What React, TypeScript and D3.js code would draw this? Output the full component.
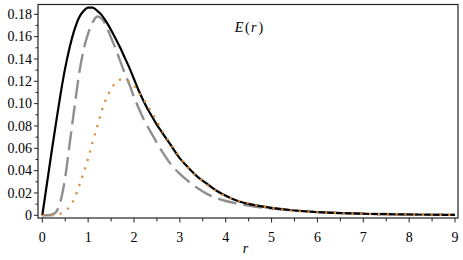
import * as d3 from "d3";
import { useEffect, useRef } from "react";

// values
const rSolid = [0, 0.1, 0.2, 0.3, 0.4, 0.5, 0.6, 0.7, 0.8, 0.9, 1.0, 1.1, 1.2, 1.3, 1.4, 1.5, 1.6, 1.7, 1.8, 1.9, 2.0, 2.1, 2.2, 2.3, 2.4, 2.5, 2.6, 2.8, 3.0, 3.2, 3.4, 3.6, 3.8, 4.0, 4.25, 4.5, 4.75, 5.0, 5.5, 6, 6.5, 7, 7.5, 8, 8.5, 9];
const eSolid = [0, 0.028, 0.056, 0.083, 0.109, 0.132, 0.151, 0.166, 0.177, 0.183, 0.186, 0.186, 0.183, 0.179, 0.173, 0.166, 0.158, 0.150, 0.141, 0.132, 0.122, 0.112, 0.103, 0.095, 0.088, 0.081, 0.075, 0.063, 0.051, 0.042, 0.034, 0.028, 0.022, 0.0175, 0.013, 0.0102, 0.0082, 0.0066, 0.0043, 0.0029, 0.002, 0.0014, 0.001, 0.0007, 0.0005, 0.0004];

const rDash = [0, 0.1, 0.2, 0.3, 0.4, 0.5, 0.6, 0.7, 0.8, 0.9, 1.0, 1.1, 1.2, 1.3, 1.4, 1.5, 1.6, 1.7, 1.8, 1.9, 2.0, 2.1, 2.2, 2.4, 2.6, 2.8, 3.0, 3.2, 3.4, 3.6, 3.8, 4.0, 4.25, 4.5, 4.75, 5.0, 5.5, 6, 6.5, 7, 7.5, 8, 8.5, 9];
const eDash = [0, 0, 0.0005, 0.003, 0.013, 0.034, 0.065, 0.096, 0.126, 0.148, 0.163, 0.173, 0.178, 0.176, 0.169, 0.159, 0.149, 0.138, 0.127, 0.117, 0.106, 0.096, 0.087, 0.072, 0.058, 0.046, 0.037, 0.030, 0.024, 0.019, 0.0155, 0.0128, 0.0105, 0.0087, 0.0072, 0.006, 0.0042, 0.003, 0.0021, 0.0015, 0.0011, 0.0008, 0.0006, 0.0004];

const rDot = [0, 0.2, 0.4, 0.5, 0.6, 0.7, 0.8, 0.9, 1.0, 1.1, 1.2, 1.3, 1.4, 1.5, 1.6, 1.7, 1.8, 1.9, 2.0, 2.1, 2.2, 2.3, 2.4, 2.5, 2.6, 2.7, 2.8, 2.9, 3.0, 3.2, 3.4, 3.6, 3.8, 4.0, 4.2, 4.4, 4.6, 4.8, 5.0, 5.2, 5.4, 5.7, 6, 6.5, 7, 7.5, 8, 8.5, 9];
const eDot = [0, 0, 0.0015, 0.004, 0.008, 0.015, 0.026, 0.038, 0.051, 0.066, 0.080, 0.094, 0.105, 0.113, 0.119, 0.1215, 0.1215, 0.1195, 0.116, 0.110, 0.104, 0.098, 0.091, 0.084, 0.077, 0.070, 0.064, 0.058, 0.052, 0.042, 0.034, 0.027, 0.0215, 0.0173, 0.014, 0.0116, 0.0096, 0.008, 0.0066, 0.0054, 0.0044, 0.0034, 0.0027, 0.0019, 0.0013, 0.0009, 0.0007, 0.0005, 0.0004];

const xTicks = [0, 1, 2, 3, 4, 5, 6, 7, 8, 9];
const yTicks = [0, 0.02, 0.04, 0.06, 0.08, 0.1, 0.12, 0.14, 0.16, 0.18];
const yTickLabels = ["0", "0.02", "0.04", "0.06", "0.08", "0.10", "0.12", "0.14", "0.16", "0.18"];

const W = 463, H = 260;
const frame = { left: 38, right: 458, top: 4.5, bottom: 218 };
const font = "'Liberation Serif', 'DejaVu Serif', Tinos, 'Nimbus Roman', FreeSerif, 'Times New Roman', Times, serif";

export default function App() {
  const ref = useRef<SVGSVGElement>(null);

  useEffect(() => {
    const svg = d3.select(ref.current);
    svg.selectAll("*").remove();

    const x = d3.scaleLinear().domain([0, 9]).range([42.3, 455]);
    const y = d3.scaleLinear().domain([0, 0.18]).range([215.3, 14.3]);

    // frame
    svg.append("rect")
      .attr("x", frame.left).attr("y", frame.top)
      .attr("width", frame.right - frame.left).attr("height", frame.bottom - frame.top)
      .attr("fill", "none").attr("stroke", "#222").attr("stroke-width", 1.2);

    // y ticks, majors and minors
    const yMinor = d3.range(0.01, 0.19, 0.02);
    svg.append("g").selectAll("line").data(yTicks).join("line")
      .attr("x1", frame.left - 4).attr("x2", frame.left)
      .attr("y1", d => y(d)).attr("y2", d => y(d))
      .attr("stroke", "#222");
    svg.append("g").selectAll("line").data(yMinor).join("line")
      .attr("x1", frame.left - 2.5).attr("x2", frame.left)
      .attr("y1", d => y(d)).attr("y2", d => y(d))
      .attr("stroke", "#222");
    svg.append("g").selectAll("text").data(yTicks).join("text")
      .attr("x", frame.left - 6).attr("y", d => y(d) + 4.8)
      .attr("text-anchor", "end")
      .style("font-family", font).attr("font-size", 14)
      .text((d, i) => yTickLabels[i]);

    // x ticks
    const xMinor = d3.range(0.5, 9, 1);
    svg.append("g").selectAll("line").data(xTicks).join("line")
      .attr("x1", d => x(d)).attr("x2", d => x(d))
      .attr("y1", frame.bottom).attr("y2", frame.bottom + 4.5)
      .attr("stroke", "#222");
    svg.append("g").selectAll("line").data(xMinor).join("line")
      .attr("x1", d => x(d)).attr("x2", d => x(d))
      .attr("y1", frame.bottom).attr("y2", frame.bottom + 3.5)
      .attr("stroke", "#222");
    svg.append("g").selectAll("text").data(xTicks).join("text")
      .attr("x", d => x(d)).attr("y", 241.5)
      .attr("text-anchor", "middle")
      .style("font-family", font).attr("font-size", 14)
      .text(d => String(d));

    svg.append("text")
      .attr("x", 245.5).attr("y", 253)
      .attr("text-anchor", "middle")
      .style("font-family", font).attr("font-size", 14).attr("font-style", "italic")
      .text("r");

    const title = svg.append("text")
      .attr("x", 249).attr("y", 32)
      .attr("text-anchor", "middle")
      .style("font-family", font).attr("font-size", 14);
    title.append("tspan").attr("font-style", "italic").text("E");
    title.append("tspan").attr("dx", 1.5).text("(");
    title.append("tspan").attr("dx", 1.5).attr("font-style", "italic").text("r");
    title.append("tspan").attr("dx", 2).text(")");

    const line = d3.line<[number, number]>()
      .x(d => x(d[0])).y(d => y(d[1]))
      .curve(d3.curveMonotoneX);

    const dotted = line(rDot.map((r, i) => [r, eDot[i]]))!;
    const plot = svg.append("g");
    plot.append("path")
      .attr("d", line(rDash.map((r, i) => [r, eDash[i]]))!)
      .attr("fill", "none").attr("stroke", "#8f8f8f").attr("stroke-width", 2.4)
      .attr("stroke-dasharray", "19 7");
    plot.append("path")
      .attr("d", line(rSolid.map((r, i) => [r, eSolid[i]]))!)
      .attr("fill", "none").attr("stroke", "#000").attr("stroke-width", 2.2);
    // dotted drawn last so its dots stay visible where it overlaps the solid
    plot.append("path")
      .attr("d", dotted)
      .attr("fill", "none").attr("stroke", "#dc8a3e").attr("stroke-width", 2.2)
      .attr("stroke-dasharray", "2.2 6.6");
  }, []);

  return (
    <svg ref={ref} width={W} height={H}
      style={{ position: "absolute", left: 0, top: 0, background: "#fff" }} />
  );
}
